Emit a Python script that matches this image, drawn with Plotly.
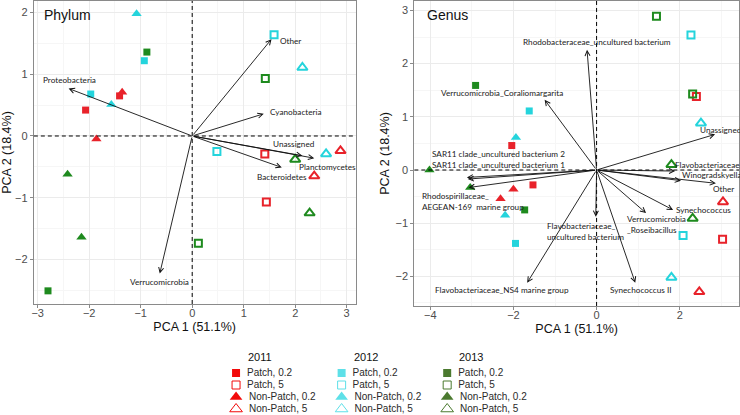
import plotly.graph_objects as go

# ---------------- data ----------------
years = ["2011", "2012", "2013"]
groups = ["Patch, 0.2", "Patch, 5", "Non-Patch, 0.2", "Non-Patch, 5"]

# Phylum panel scores: [year][group] -> (xs, ys)
phylum_x = {
    "2011": [[-1.41, -2.07], [1.41, 1.44], [-1.36, -1.86], [2.88, 2.37]],
    "2012": [[-0.93, -1.97], [1.59, 0.48], [-1.08, -1.57], [2.14, 2.60]],
    "2013": [[-0.88, -2.80], [1.42, 0.12], [-2.42, -2.15], [2.00, 2.28]],
}
phylum_y = {
    "2011": [[0.65, 0.42], [-0.29, -1.07], [0.71, -0.05], [-0.24, -0.65]],
    "2012": [[1.22, 0.68], [1.64, -0.25], [1.98, 0.51], [1.11, -0.29]],
    "2013": [[1.36, -2.51], [0.93, -1.74], [-0.62, -1.64], [-0.38, -1.25]],
}
# Genus panel scores
genus_x = {
    "2011": [[-2.04, -1.53], [2.40, 3.03], [-2.00, -2.31], [3.04, 2.47]],
    "2012": [[-1.62, -1.95], [2.27, 2.08], [-1.94, -2.20], [2.51, 1.80]],
    "2013": [[-2.91, -1.73], [1.44, 2.31], [-4.02, -3.04], [1.80, 2.31]],
}
genus_y = {
    "2011": [[0.46, -0.28], [1.38, -1.30], [-0.36, -0.54], [-0.60, -2.29]],
    "2012": [[1.11, -1.38], [2.54, -1.23], [0.61, -0.85], [0.88, -2.02]],
    "2013": [[1.59, -0.75], [2.89, 1.43], [0.00, -0.33], [0.10, -0.91]],
}

# loading vectors
phylum_names = ["Other", "Proteobacteria", "Cyanobacteria", "Unassigned",
                "Planctomycetes", "Bacteroidetes", "Verrucomicrobia"]
phylum_lx = [1.54, -2.40, 1.39, 2.14, 2.37, 1.74, -0.63]
phylum_ly = [1.57, 0.77, 0.36, -0.32, -0.36, -0.51, -2.23]

genus_names = ["Rhodobacteraceae_uncultured bacterium",
               "Verrucomicrobia_Coraliomargarita",
               "Unassigned",
               "SAR11 clade_uncultured bacterium 2",
               "SAR11 clade_uncultured bacterium 1",
               "Rhodospirillaceae_<br>AEGEAN-169  marine group",
               "Flavobacteriaceae_<br>uncultured bacterium",
               "Flavobacteriaceae_NS4 marine group",
               "Synechococcus II",
               "Verrucomicrobia<br>_Roseibacillus",
               "Synechococcus",
               "Other",
               "Winogradskyella",
               "Flavobacteriaceae"]
genus_lx = [-0.23, -1.25, 2.85, -3.12, -3.10, -3.08, -0.02, -1.67, 0.93, 1.19, 1.84, 2.87, 2.03, 1.89]
genus_ly = [2.26, 1.32, 0.67, -0.14, -0.17, -0.33, -0.88, -2.12, -2.12, -0.81, -0.75, -0.25, -0.20, -0.02]

# ---------------- styles ----------------
plot_colors = {"2011": "#E8222A", "2012": "#24D4DC", "2013": "#1E8A1E"}
legend_colors = {"2011": "#F20A0A", "2012": "#5EE0E8", "2013": "#4B7A2F"}
symbols = ["square", "square-open", "triangle-up", "triangle-up-open"]
sizes = [7, 7, 9, 9]

# label placement: (xanchor, xshift, yshift)
phylum_lab = [("left", 7, -2), ("center", 1, 8), ("left", 4, 2), ("center", -9, 12),
              ("center", 13, -9), ("center", 0, -10), ("center", 0, -8)]
genus_lab = [("center", 10, 8), ("center", -43, 7), ("left", -17, 4), ("left", -37, 23),
             ("left", -38, 14), ("left", -49, -14), ("left", -51, -15), ("center", -25, -7),
             ("center", 5, -7), ("left", -21, -11), ("left", 1, 0), ("center", 8, -6),
             ("left", -1, 6), ("left", -2, 6)]

LABFONT = dict(family="Lato, Noto Sans, sans-serif", size=8.2, color="#1a1a1a")
ARIAL = "Liberation Sans, Arial"

fig = go.Figure()

def add_scores(xd, yd, xa, ya):
    for yr in years:
        for gi, g in enumerate(groups):
            open_ = "open" in symbols[gi]
            fig.add_trace(go.Scatter(
                x=xd[yr][gi], y=yd[yr][gi], mode="markers", xaxis=xa, yaxis=ya,
                showlegend=False, cliponaxis=False,
                marker=dict(symbol=symbols[gi], size=sizes[gi], color=plot_colors[yr],
                            line=dict(color=plot_colors[yr], width=2 if open_ else 0)),
                name=f"{yr} {g}"))

add_scores(phylum_x, phylum_y, "x", "y")
add_scores(genus_x, genus_y, "x2", "y2")

annotations = []

def add_vectors(names, lx, ly, labs, xr, yr_):
    for n, x, y, lab in zip(names, lx, ly, labs):
        annotations.append(dict(x=x, y=y, ax=0, ay=0, xref=xr, yref=yr_, axref=xr, ayref=yr_,
                                text="", showarrow=True, arrowhead=5, arrowsize=1.1,
                                arrowwidth=0.9, arrowcolor="#111111", standoff=0, startstandoff=0))
        annotations.append(dict(x=x, y=y, xref=xr, yref=yr_, text=n, showarrow=False,
                                xanchor=lab[0], yanchor="middle", xshift=lab[1], yshift=lab[2],
                                align="left", font=LABFONT))

add_vectors(phylum_names, phylum_lx, phylum_ly, phylum_lab, "x", "y")
add_vectors(genus_names, genus_lx, genus_ly, genus_lab, "x2", "y2")

# panel titles
annotations.append(dict(x=0.026, y=0.953, xref="x domain", yref="y domain", text="Phylum",
                        showarrow=False, xanchor="left", yanchor="middle",
                        font=dict(family=ARIAL, size=14, color="#111111")))
annotations.append(dict(x=0.033, y=0.953, xref="x2 domain", yref="y2 domain", text="Genus",
                        showarrow=False, xanchor="left", yanchor="middle",
                        font=dict(family=ARIAL, size=14, color="#111111")))

# legend (drawn on a hidden axis pair: column = year, row = group)
for i, yr in enumerate(years):
    for gi, g in enumerate(groups):
        open_ = "open" in symbols[gi]
        fig.add_trace(go.Scatter(
            x=[i], y=[gi], mode="markers+text", xaxis="x3", yaxis="y3", showlegend=False,
            text=["\u2002" + g], textposition="middle right", cliponaxis=False,
            textfont=dict(family=ARIAL, size=10, color="#2a2a2a"),
            marker=dict(symbol=symbols[gi], size=8 if gi < 2 else 11, color=legend_colors[yr],
                        line=dict(color=legend_colors[yr], width=1 if open_ else 0))))
    annotations.append(dict(x=i, y=-1.33, xref="x3", yref="y3", text=yr, showarrow=False,
                            xanchor="center", yanchor="middle", xshift=24,
                            font=dict(family=ARIAL, size=11, color="#111111")))

# dashed zero lines
shapes = []
for xr, yr_ in (("x", "y"), ("x2", "y2")):
    shapes.append(dict(type="line", xref=xr, yref=yr_ + " domain", x0=0, x1=0, y0=0, y1=1,
                       line=dict(color="black", width=1, dash="4px,3px"), layer="above"))
    shapes.append(dict(type="line", xref=xr + " domain", yref=yr_, x0=0, x1=1, y0=0, y1=0,
                       line=dict(color="black", width=1, dash="4px,3px"), layer="above"))

TICKFONT = dict(family=ARIAL, size=11, color="#4D4D4D")
TITLEFONT = dict(family=ARIAL, size=12.5, color="#111111")

def ax(domain, rng, dtick, minor, title, anchor, standoff, tls):
    return dict(domain=domain, range=rng, dtick=dtick, tick0=0, anchor=anchor,
                showgrid=True, gridcolor="#EBEBEB", gridwidth=1,
                minor=dict(dtick=minor, tick0=0, showgrid=True, gridcolor="#F6F6F6", gridwidth=1),
                zeroline=False, showline=True, linecolor="#8A8A8A", linewidth=1, mirror=True,
                ticks="outside", ticklen=3, tickcolor="#8A8A8A", tickfont=TICKFONT,
                ticklabelstandoff=tls,
                title=dict(text=title, font=TITLEFONT, standoff=standoff))

fig.update_layout(
    width=740, height=415, margin=dict(l=0, r=0, t=0, b=0),
    paper_bgcolor="white", plot_bgcolor="white", showlegend=False,
    xaxis=ax([0.0432, 0.4797], [-3.075, 3.172], 1, 0.5, "PCA 1 (51.1%)", "y", 4, -4),
    yaxis=ax([0.2675, 0.9976], [-2.723, 2.188], 1, 0.5, "PCA 2 (18.4%)", "x", 3, 0),
    xaxis2=ax([0.5595, 1.0], [-4.383, 3.425], 2, 1, "PCA 1 (51.1%)", "y2", 4, -4),
    yaxis2=ax([0.2627, 0.9976], [-2.556, 3.177], 1, 0.5, "PCA 2 (18.4%)", "x2", 3, 0),
    xaxis3=dict(domain=[235 / 740, 447 / 740], range=[0, 2], visible=False, anchor="y3"),
    yaxis3=dict(domain=[(415 - 409) / 415, (415 - 355) / 415], range=[3, -1.5],
                visible=False, anchor="x3"),
    annotations=annotations, shapes=shapes,
)

fig.write_html("out.html", config={"displayModeBar": False},
               post_script="document.body.style.margin='0';document.body.style.overflow='hidden';")
